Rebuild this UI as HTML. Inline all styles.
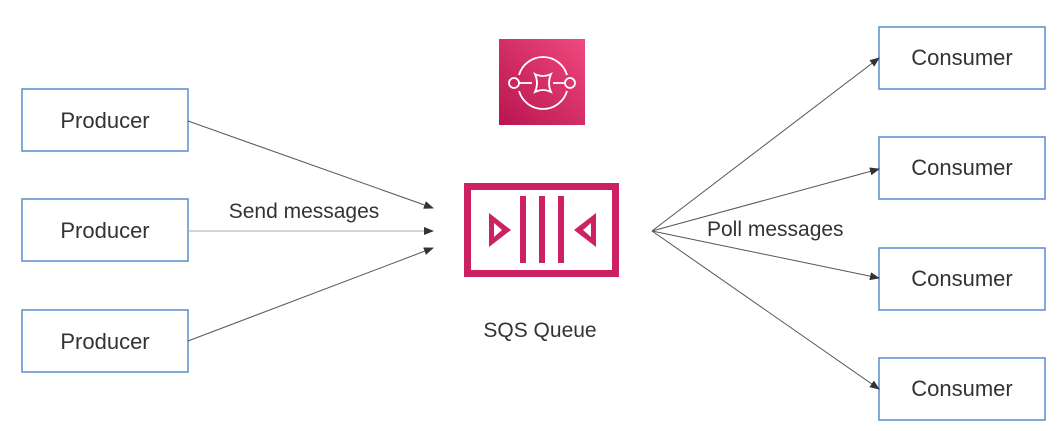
<!DOCTYPE html>
<html><head><meta charset="utf-8"><style>
html,body{margin:0;padding:0;background:#fff;}
svg{display:block;}
text{font-family:"Liberation Sans","DejaVu Sans",sans-serif;fill:#333;}
</style></head><body>
<svg width="1060" height="431" viewBox="0 0 1060 431" xmlns="http://www.w3.org/2000/svg">
<defs>
<marker id="ah" markerWidth="10" markerHeight="8" refX="9" refY="4" orient="auto" markerUnits="userSpaceOnUse">
<path d="M0,0 L10,4 L0,8 z" fill="#333"/>
</marker>
<linearGradient id="pg" x1="1" y1="0" x2="0" y2="1">
<stop offset="0" stop-color="#ee4a7e"/><stop offset="1" stop-color="#b8144f"/>
</linearGradient>
</defs>
<g fill="#fff" stroke="#5b8bcc" stroke-width="1.5">
<rect x="22" y="89" width="166" height="62"/>
<rect x="22" y="199" width="166" height="62"/>
<rect x="22" y="310" width="166" height="62"/>
<rect x="879" y="27" width="166" height="62"/>
<rect x="879" y="137" width="166" height="62"/>
<rect x="879" y="248" width="166" height="62"/>
<rect x="879" y="358" width="166" height="62"/>
</g>
<g font-size="22" text-anchor="middle">
<text x="105" y="128">Producer</text>
<text x="105" y="238">Producer</text>
<text x="105" y="349">Producer</text>
<text x="962" y="65">Consumer</text>
<text x="962" y="175">Consumer</text>
<text x="962" y="286">Consumer</text>
<text x="962" y="396">Consumer</text>
</g>
<g stroke="#555" stroke-width="1" fill="none" marker-end="url(#ah)">
<line x1="188" y1="121" x2="433" y2="208"/>
<line x1="188" y1="231" x2="433" y2="231" stroke="#aaa"/>
<line x1="188" y1="341" x2="433" y2="248"/>
<line x1="652" y1="231" x2="879" y2="58"/>
<line x1="652" y1="231" x2="879" y2="169"/>
<line x1="652" y1="231" x2="879" y2="278"/>
<line x1="652" y1="231" x2="879" y2="389"/>
</g>
<text x="304" y="218" font-size="21" text-anchor="middle">Send messages</text>
<text x="707" y="236" font-size="21">Poll messages</text>
<text x="540" y="337" font-size="21" text-anchor="middle">SQS Queue</text>
<rect x="499" y="39" width="86" height="86" fill="url(#pg)"/>
<g stroke="#fff" stroke-width="1.8" fill="none">
<path d="M519,75 A25,25 0 0 1 567,75"/>
<path d="M519,91 A25,25 0 0 0 567,91"/>
<circle cx="514" cy="83" r="5"/>
<circle cx="570" cy="83" r="5"/>
<line x1="519" y1="83" x2="532" y2="83"/>
<line x1="553" y1="83" x2="565" y2="83"/>
<path d="M535,74 Q543,78 551,74 Q547,83 551,92 Q543,88 535,92 Q539,83 535,74 z"/>
</g>
<g fill="#cc2264">
<path d="M464,183 h155 v94 h-155 z M471,190 v80 h141 v-80 z" fill-rule="evenodd"/>
<rect x="520" y="196" width="6" height="67"/>
<rect x="539" y="196" width="6" height="67"/>
<rect x="558" y="196" width="6" height="67"/>
<path d="M489,213 L511,230 L489,247 z M494,223 v14 l8,-7 z" fill-rule="evenodd"/>
<path d="M596,213 L574,230 L596,247 z M591,223 v14 l-8,-7 z" fill-rule="evenodd"/>
</g>
</svg>
</body></html>
